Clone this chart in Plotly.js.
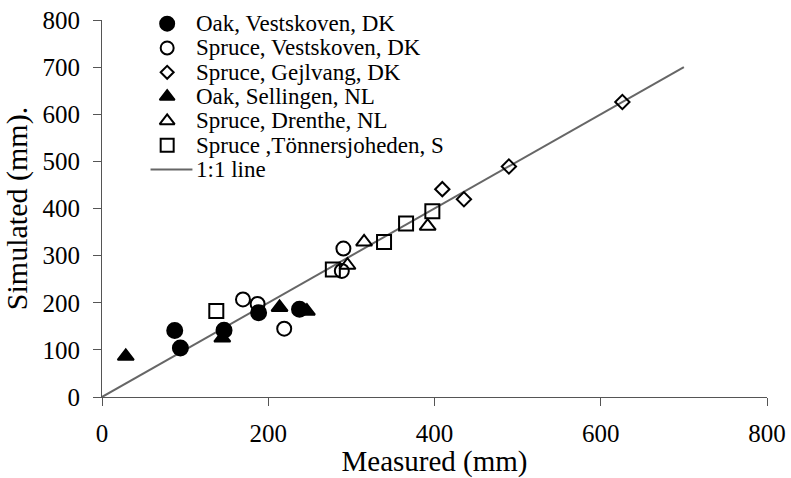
<!DOCTYPE html>
<html>
<head>
<meta charset="utf-8">
<script src="https://cdn.plot.ly/plotly-3.0.1.min.js"></script>
<style>html,body{margin:0;padding:0;background:#fff;}#chart{width:791px;height:478px;}</style>
</head>
<body>
<div id="chart"></div>
<script>
// ---- data ----
const seriesNames = [
  "Oak, Vestskoven, DK",
  "Spruce, Vestskoven, DK",
  "Spruce, Gejlvang, DK",
  "Oak, Sellingen, NL",
  "Spruce, Drenthe, NL",
  "Spruce ,Tönnersjoheden, S"
];
const oakVestX = [87.5, 94.3, 146.8, 188.4, 237.6];
const oakVestY = [141, 104, 141.6, 179, 186];
const spruceVestX = [169.6, 187.2, 219.2, 290.4, 288.5];
const spruceVestY = [207, 197.5, 145, 315, 267.5];
const spruceGejlX = [409.4, 435.4, 489.5, 626];
const spruceGejlY = [441, 419.7, 489, 626];
const oakSellX = [28.6, 144.7, 213.6, 246.5];
const oakSellY = [86.4, 125, 190, 182];
const spruceDrenX = [295.3, 315.3, 391.8];
const spruceDrenY = [279.6, 329, 362.4];
const spruceTonX = [137.5, 277.7, 339.3, 365.8, 397.4];
const spruceTonY = [182.6, 270.5, 329, 368, 394];
const lineX = [0, 700];
const lineY = [0, 700];
const lineName = "1:1 line";
const xTicks = [0, 200, 400, 600, 800];
const yTicks = [0, 100, 200, 300, 400, 500, 600, 700, 800];

// ---- styles ----
const FONT = "Liberation Serif";
const symbols = ["circle", "circle-open", "diamond-open", "triangle-up", "triangle-up-open", "square-open"];
const sizes = [15, 14, 11, 14, 14, 14];
const xs = [oakVestX, spruceVestX, spruceGejlX, oakSellX, spruceDrenX, spruceTonX];
const ys = [oakVestY, spruceVestY, spruceGejlY, oakSellY, spruceDrenY, spruceTonY];

const traces = [];
traces.push({x: lineX, y: lineY, mode: "lines", line: {color: "#666666", width: 2}, hoverinfo: "skip", showlegend: false});
for (let i = 0; i < xs.length; i++) {
  traces.push({
    x: xs[i], y: ys[i], mode: "markers", name: seriesNames[i], showlegend: false,
    marker: {symbol: symbols[i], size: sizes[i], color: "#000", line: {color: "#000", width: 2}}
  });
}

// ---- hand-built legend on hidden overlaying axes (row index based) ----
const legMarkerX = 0.098, legTextX = 0.139, legLine = [0.073, 0.136];
const rowIdx = seriesNames.map((_, i) => i);
for (let i = 0; i < seriesNames.length; i++) {
  traces.push({
    x: [legMarkerX], y: [rowIdx[i]], xaxis: "x2", yaxis: "y2", mode: "markers", showlegend: false,
    cliponaxis: false, hoverinfo: "skip",
    marker: {symbol: symbols[i], size: sizes[i] - 1, color: "#000", line: {color: "#000", width: 2}}
  });
}
const lineRow = seriesNames.length;
traces.push({x: legLine, y: [lineRow, lineRow], xaxis: "x2", yaxis: "y2", mode: "lines",
  showlegend: false, cliponaxis: false, hoverinfo: "skip", line: {color: "#666666", width: 2}});

const annotations = seriesNames.concat([lineName]).map((t, i) => ({
  text: t, xref: "x2", yref: "y2", x: legTextX, y: i, xanchor: "left", yanchor: "middle",
  showarrow: false, font: {family: FONT, size: 23, color: "#000"}
}));

const rowPx = 24.3, plotH = 478 - 20 - 81.3;
const topVal = -0.15;
const layout = {
  width: 791, height: 478,
  margin: {l: 101.5, r: 24, t: 20, b: 81.3},
  paper_bgcolor: "#fff", plot_bgcolor: "#fff",
  font: {family: FONT, size: 24, color: "#000"},
  showlegend: false,
  xaxis: {
    range: [0, 800], tickvals: xTicks, ticks: "outside", ticklen: 8, tickwidth: 1, tickcolor: "#555",
    showline: true, linecolor: "#555", linewidth: 1, showgrid: false, zeroline: false,
    tickfont: {family: FONT, size: 25, color: "#000"}, ticklabelstandoff: 6,
    title: {text: "Measured (mm)", font: {family: FONT, size: 29, color: "#000"}, standoff: 2}
  },
  yaxis: {
    range: [0, 800], tickvals: yTicks, ticks: "outside", ticklen: 8, tickwidth: 1, tickcolor: "#555",
    showline: true, linecolor: "#555", linewidth: 1, showgrid: false, zeroline: false,
    tickfont: {family: FONT, size: 25, color: "#000"}, ticklabelstandoff: 8,
    title: {text: "Simulated (mm).", font: {family: FONT, size: 30, color: "#000"}, standoff: 8}
  },
  xaxis2: {overlaying: "x", range: [0, 1], visible: false, anchor: "y2", fixedrange: true},
  yaxis2: {overlaying: "y", range: [topVal + plotH / rowPx, topVal], visible: false, anchor: "x2", fixedrange: true},
  annotations: annotations
};
Plotly.newPlot("chart", traces, layout, {displayModeBar: false, staticPlot: true});
</script>
</body>
</html>
